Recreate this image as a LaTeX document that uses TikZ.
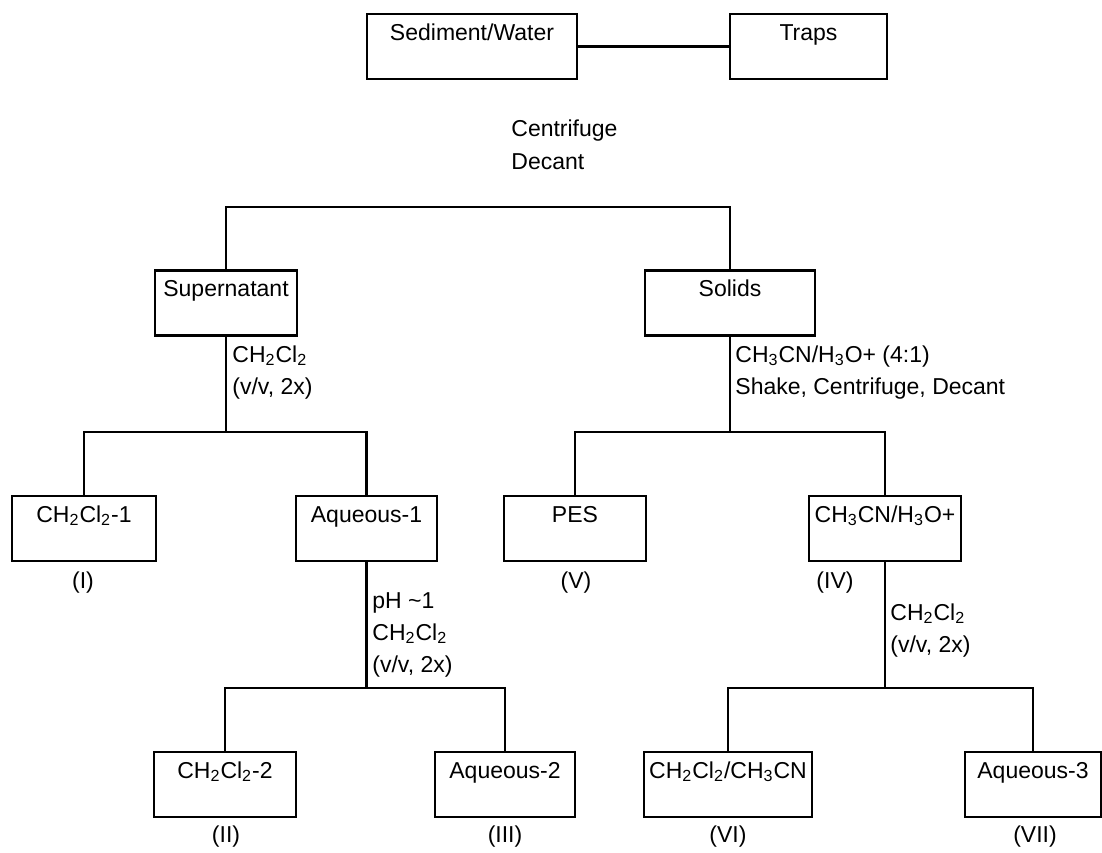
\documentclass[tikz,border=0pt]{standalone}
\usepackage{fontspec}
\setmainfont{Liberation Sans}
\newcommand{\sbs}[1]{\textsubscript{#1}}
\newcommand{\fs}{\fontsize{11.5}{16}\selectfont}
\begin{document}
\begin{tikzpicture}[x=0.5pt,y=-0.5pt,
  box/.style={draw, line width=1.2pt, inner xsep=0pt, inner ysep=0pt, minimum height=32.5pt, text height=13pt, text depth=19.5pt, font=\fs},
  lbl/.style={inner sep=0pt, anchor=base west, font=\fs},
  num/.style={inner sep=0pt, anchor=base, font=\fs},
  conn/.style={line width=1.1pt}]
\useasboundingbox (0,0) rectangle (1102,852);
% boxes
\node[box, minimum width=105pt] (sed) at (472,46.5) {Sediment/Water};
\node[box, minimum width=78.5pt] (traps) at (808.5,46.5) {Traps};
\node[box, minimum width=71pt] (sup) at (226,303) {Supernatant};
\node[box, minimum width=85pt] (sol) at (730,303) {Solids};
\node[box, minimum width=72pt] (ch1) at (84,528.5) {CH\sbs{2}Cl\sbs{2}-1};
\node[box, minimum width=70.5pt] (aq1) at (366.5,528.5) {Aqueous-1};
\node[box, minimum width=71pt] (pes) at (575,528.5) {PES};
\node[box, minimum width=76pt] (ch3) at (885,528.5) {CH\sbs{3}CN/H\sbs{3}O+};
\node[box, minimum width=71pt] (ch2) at (225,784.5) {CH\sbs{2}Cl\sbs{2}-2};
\node[box, minimum width=70pt] (aq2) at (505,784.5) {Aqueous-2};
\node[box, minimum width=84pt] (mix) at (728,784.5) {CH\sbs{2}Cl\sbs{2}/CH\sbs{3}CN};
\node[box, minimum width=68pt] (aq3) at (1033,784.5) {Aqueous-3};
% connectors
\coordinate (t) at (0,207);
\coordinate (h1) at (0,432);
\coordinate (h2) at (0,688);
\draw[conn] (sed.east) -- (traps.west);
\draw[conn] (sup.north) -- (sup.north |- t) -- (sol.north |- t) -- (sol.north);
\draw[conn] (sup.south) -- (sup.south |- h1);
\draw[conn] (ch1.north) -- (ch1.north |- h1) -- (aq1.north |- h1) -- (aq1.north);
\draw[conn] (sol.south) -- (sol.south |- h1);
\draw[conn] (pes.north) -- (pes.north |- h1) -- (ch3.north |- h1) -- (ch3.north);
\draw[conn] (aq1.south) -- (aq1.south |- h2);
\draw[conn] (ch2.north) -- (ch2.north |- h2) -- (aq2.north |- h2) -- (aq2.north);
\draw[conn] (ch3.south) -- (ch3.south |- h2);
\draw[conn] (mix.north) -- (mix.north |- h2) -- (aq3.north |- h2) -- (aq3.north);
% labels
\node[lbl] (c1) at (511,136) {Centrifuge};
\node[lbl] (c2) at (511,169) {Decant};
\node[lbl] (s1) at (232,362) {CH\sbs{2}Cl\sbs{2}};
\node[lbl] (s2) at (232,394) {(v/v, 2x)};
\node[lbl] (o1) at (735,362) {CH\sbs{3}CN/H\sbs{3}O+ (4:1)};
\node[lbl] (o2) at (735,394) {Shake, Centrifuge, Decant};
\node[lbl] (a1) at (372,608) {pH \textasciitilde1};
\node[lbl] (a2) at (372,640) {CH\sbs{2}Cl\sbs{2}};
\node[lbl] (a3) at (372,672) {(v/v, 2x)};
\node[lbl] (d1) at (890,620) {CH\sbs{2}Cl\sbs{2}};
\node[lbl] (d2) at (890,652) {(v/v, 2x)};
\node[num] (n1) at (83,588) {(I)};
\node[num] (n5) at (576,588) {(V)};
\node[num] (n4) at (835,588) {(IV)};
\node[num] (n2) at (226,842) {(II)};
\node[num] (n3) at (505,842) {(III)};
\node[num] (n6) at (728,842) {(VI)};
\node[num] (n7) at (1035,842) {(VII)};
\end{tikzpicture}
\end{document}
